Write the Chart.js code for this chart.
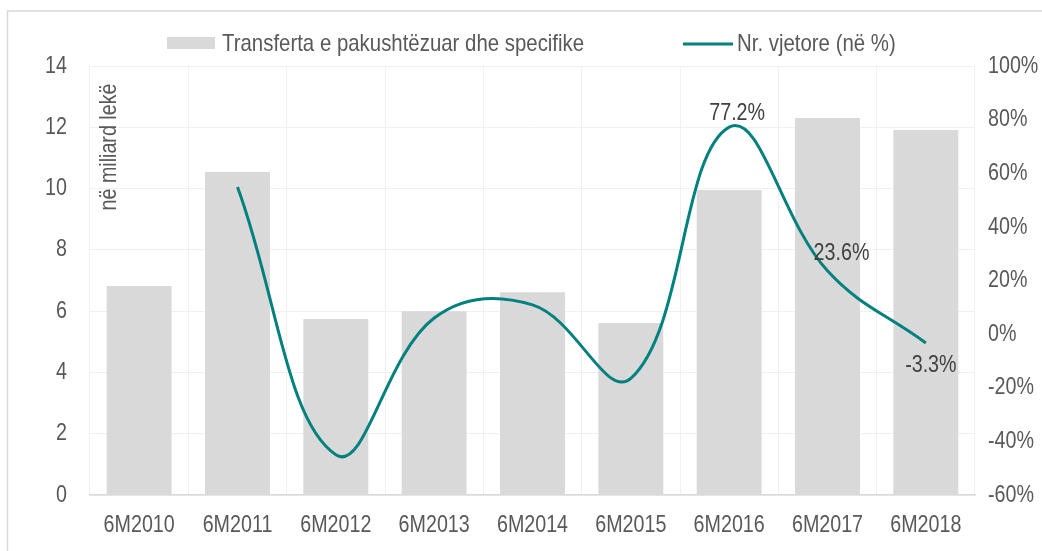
<!DOCTYPE html>
<html>
<head>
<meta charset="utf-8">
<script src="https://cdn.jsdelivr.net/npm/chart.js@4"></script>
<style>
  html, body { margin: 0; padding: 0; background: #fff; }
  #wrap { position: relative; width: 1042px; height: 551px; overflow: hidden; }
</style>
</head>
<body>
<div id="wrap"><canvas id="chart" width="1042" height="551"></canvas></div>
<script>
var categories = ["6M2010","6M2011","6M2012","6M2013","6M2014","6M2015","6M2016","6M2017","6M2018"];
var transfers = [6.82, 10.54, 5.74, 6.0, 6.62, 5.61, 9.95, 12.3, 11.91];
var growth = [null, 54.9, -45, 6, 10.9, -16.5, 77.2, 23.6, -3.3];
var shownLabels = [null, null, null, null, null, null, "77.2%", "23.6%", "-3.3%"];
var labelOffsets = [null, null, null, null, null, null, [8, -14], [14, -17], [5, 22]];

var FONT = "'Liberation Sans', Arial, sans-serif";
var SIZE = 24;
var SX = 0.82; // squeeze to look like Arial Narrow
var TXT = '#595959';
var TEAL = '#00807f';
var GREY = '#d9d9d9';

function narrowText(c, str, x, y, align, sx) {
  c.save();
  c.translate(x, y);
  c.scale(sx || SX, 1);
  c.textAlign = align;
  c.fillText(str, 0, 0);
  c.restore();
}

// frame, legend, tick labels, axis title and point labels
var extras = {
  id: 'extras',
  beforeDraw: function(chart) {
    var c = chart.ctx;
    c.save();
    c.strokeStyle = GREY;
    c.lineWidth = 1.5;
    c.strokeRect(7.5, 11, 1100, 600);
    c.restore();
  },
  afterDraw: function(chart) {
    var c = chart.ctx;
    c.save();
    c.font = SIZE + 'px ' + FONT;
    c.fillStyle = TXT;
    c.textBaseline = 'middle';

    // legend
    c.fillStyle = GREY;
    c.fillRect(167, 37, 48, 12);
    c.fillStyle = TXT;
    narrowText(c, 'Transferta e pakushtëzuar dhe specifike', 222, 44, 'left', 0.85);
    c.strokeStyle = TEAL;
    c.lineWidth = 3;
    c.beginPath();
    c.moveTo(683, 44); c.lineTo(733, 44);
    c.stroke();
    narrowText(c, 'Nr. vjetore (në %)', 737, 44, 'left', 0.85);

    // tick labels
    var sy = chart.scales.y, sy1 = chart.scales.y1, sx = chart.scales.x;
    sy.ticks.forEach(function(t) {
      narrowText(c, String(t.value), 67, sy.getPixelForValue(t.value), 'right');
    });
    sy1.ticks.forEach(function(t) {
      narrowText(c, t.value + '%', 988, sy1.getPixelForValue(t.value), 'left');
    });
    chart.data.labels.forEach(function(l, i) {
      narrowText(c, l, sx.getPixelForTick(i), 525, 'center');
    });

    // rotated axis title
    c.save();
    c.translate(109, 147);
    c.rotate(-Math.PI / 2);
    narrowText(c, 'në miliard lekë', 0, 0, 'center');
    c.restore();

    // data labels on the growth line
    var meta = chart.getDatasetMeta(1);
    c.fillStyle = '#404040';
    meta.data.forEach(function(pt, i) {
      if (!shownLabels[i]) return;
      var o = labelOffsets[i];
      narrowText(c, shownLabels[i], pt.x + o[0], pt.y + o[1], 'center');
    });
    c.restore();
  }
};

new Chart(document.getElementById('chart'), {
  type: 'bar',
  data: {
    labels: categories,
    datasets: [{
      label: 'Transferta e pakushtëzuar dhe specifike',
      data: transfers,
      backgroundColor: GREY,
      barPercentage: 0.66,
      categoryPercentage: 1,
      yAxisID: 'y',
      order: 2
    }, {
      type: 'line',
      label: 'Nr. vjetore (në %)',
      data: growth,
      borderColor: TEAL,
      borderWidth: 3,
      pointRadius: 0,
      tension: 0.4,
      spanGaps: false,
      yAxisID: 'y1',
      order: 1
    }]
  },
  options: {
    responsive: false,
    animation: false,
    layout: { padding: { top: 66, left: 0, right: 0, bottom: 0 } },
    plugins: {
      legend: { display: false },
      tooltip: { enabled: false }
    },
    scales: {
      x: {
        afterFit: function(s) { s.height = 56; },
        grid: { color: '#f0f0f0', drawTicks: false, offset: true },
        border: { color: GREY, width: 1.5 },
        ticks: { display: false }
      },
      y: {
        position: 'left',
        min: 0, max: 14,
        afterFit: function(s) { s.width = 90; },
        grid: { color: '#f0f0f0', drawTicks: false },
        border: { display: false },
        ticks: { stepSize: 2, display: false }
      },
      y1: {
        position: 'right',
        min: -60, max: 100,
        afterFit: function(s) { s.width = 67; },
        grid: { display: false },
        border: { display: false },
        ticks: { stepSize: 20, display: false }
      }
    }
  },
  plugins: [extras]
});
</script>
</body>
</html>
